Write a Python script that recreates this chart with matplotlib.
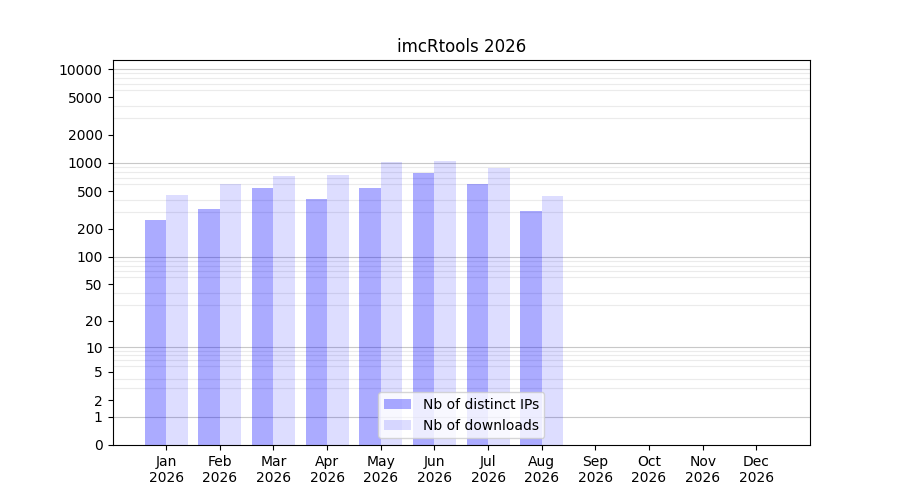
import numpy as np
import matplotlib
matplotlib.use("Agg")
import matplotlib.pyplot as plt
from matplotlib.ticker import FixedLocator

months = ["Jan", "Feb", "Mar", "Apr", "May", "Jun", "Jul", "Aug", "Sep", "Oct", "Nov", "Dec"]
year = "2026"
distinct_ips = [249, 326, 545, 416, 546, 788, 591, 310, 0, 0, 0, 0]
downloads = [460, 602, 732, 750, 1032, 1057, 891, 448, 0, 0, 0, 0]
ytick_values = [0, 1, 2, 5, 10, 20, 50, 100, 200, 500, 1000, 2000, 5000, 10000]


def forward(v):
    return np.log10(np.maximum(v, 0) + 1)


def inverse(v):
    return 10 ** v - 1


fig, ax = plt.subplots(figsize=(9, 5), dpi=100)
x = np.arange(len(months))

ax.set_yscale("function", functions=(forward, inverse))

ax.bar(x - 0.2, distinct_ips, width=0.4, color="blue", alpha=0.33, label="Nb of distinct IPs", zorder=2)
ax.bar(x + 0.2, downloads, width=0.4, color="blue", alpha=0.135, label="Nb of downloads", zorder=2)

# grid: light lines at every 1..9 x decade, darker at decades
minor = [k * 10 ** d for d in range(5) for k in range(1, 10) if k * 10 ** d <= 10000]
ax.yaxis.set_minor_locator(FixedLocator(minor))
ax.tick_params(axis="y", which="minor", length=0)
ax.grid(True, axis="y", which="minor", color="#ebebeb", linewidth=0.8, zorder=0)
for d in [1, 10, 100, 1000, 10000]:
    ax.axhline(d, color="#c8c8c8", linewidth=0.8, zorder=1)

ax.set_yticks(ytick_values, labels=[str(v) for v in ytick_values])
ax.set_ylim(0, 12470)
ax.set_xticks(x, labels=[m + "\n" + year for m in months])
ax.set_xlim(-1, 12)

ax.set_title("imcRtools 2026")
ax.legend(loc="lower center")

plt.savefig("out.png")
